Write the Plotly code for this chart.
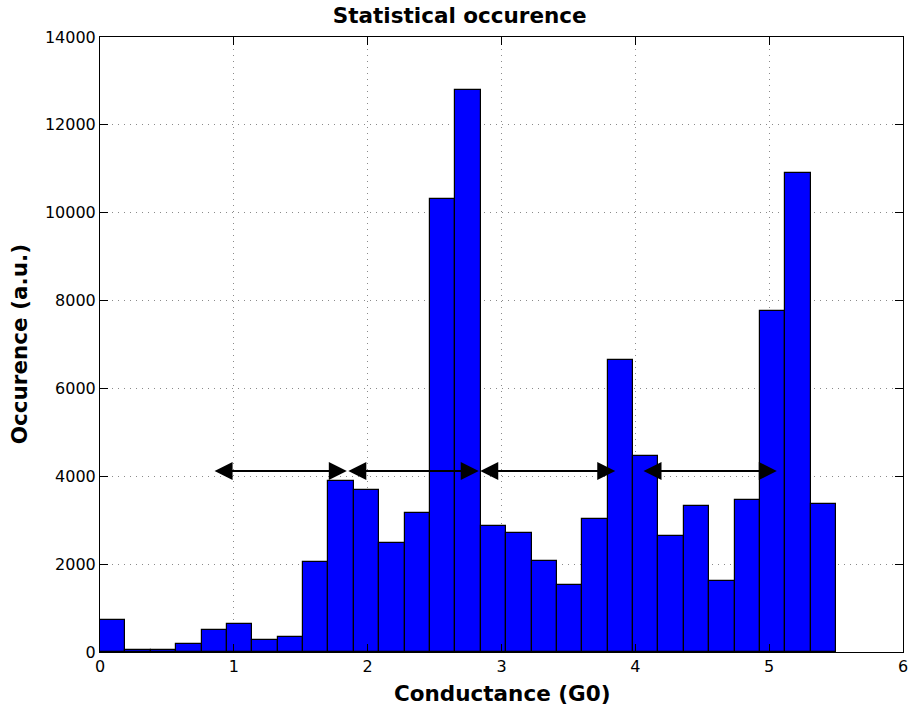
import plotly.graph_objects as go

# Histogram data: 29 bins spanning 0 .. 5.5 G0
bin_start = 0.0
bin_stop = 5.5
counts = [730, 55, 35, 180, 505, 645, 265, 350, 2055, 3895, 3690, 2480, 3160,
          10315, 12795, 2875, 2715, 2065, 1515, 3020, 6650, 4465, 2645, 3325,
          1615, 3465, 7755, 10895, 3360]

# Double-headed arrows (start, end) at a common height
arrow_starts = [0.845, 1.844, 2.83, 4.05]
arrow_ends = [1.844, 2.83, 3.85, 5.057]
arrow_level = 4120

x_ticks = [0, 1, 2, 3, 4, 5, 6]
y_ticks = [0, 2000, 4000, 6000, 8000, 10000, 12000, 14000]

nb = len(counts)
w = (bin_stop - bin_start) / nb
centers = [bin_start + (i + 0.5) * w for i in range(nb)]

fig = go.Figure()
fig.add_trace(go.Bar(
    x=centers, y=counts, width=[w] * nb,
    marker=dict(color="#0000FF", line=dict(color="black", width=1.2)),
    hoverinfo="x+y", showlegend=False,
))

annotations = []
for s, e in zip(arrow_starts, arrow_ends):
    annotations.append(dict(
        x=e, y=arrow_level, ax=s, ay=arrow_level,
        xref="x", yref="y", axref="x", ayref="y",
        text="", showarrow=True, arrowside="end+start",
        arrowhead=2, startarrowhead=2, arrowsize=1.8, startarrowsize=1.8,
        arrowwidth=2, arrowcolor="black", standoff=0, startstandoff=0,
    ))

bold = dict(family="DejaVu Sans", size=21.5, color="black", weight="bold")
annotations.append(dict(text="Conductance (G0)", x=0.5, y=-0.067, xref="paper", yref="paper",
                        showarrow=False, font=bold, xanchor="center", yanchor="middle"))
annotations.append(dict(text="Occurence (a.u.)", x=-0.1, y=0.5, xref="paper", yref="paper",
                        showarrow=False, font=bold, textangle=-90, xanchor="center", yanchor="middle"))

axis_common = dict(
    showline=True, linecolor="black", linewidth=1, mirror="ticks",
    ticks="inside", ticklen=8, tickwidth=1, tickcolor="black",
    showgrid=True, gridcolor="#8a8a8a", gridwidth=1, griddash="1px,5px",
    zeroline=False, tickfont=dict(family="DejaVu Sans", size=16, color="black"),
)

fig.update_layout(
    width=909, height=711,
    paper_bgcolor="white", plot_bgcolor="white",
    margin=dict(l=100, r=6, t=37, b=59, autoexpand=False),
    title=dict(text="Statistical occurence", x=0.448, xref="paper", xanchor="center",
               y=1 - 15 / 711, yref="container", yanchor="middle", font=bold),
    xaxis=dict(range=[0, 6], tickvals=x_ticks, ticktext=[str(v) for v in x_ticks], **axis_common),
    yaxis=dict(range=[0, 14000], tickvals=y_ticks, ticktext=[str(v) for v in y_ticks], **axis_common),
    bargap=0,
    annotations=annotations,
)

fig.write_html("out.html")
